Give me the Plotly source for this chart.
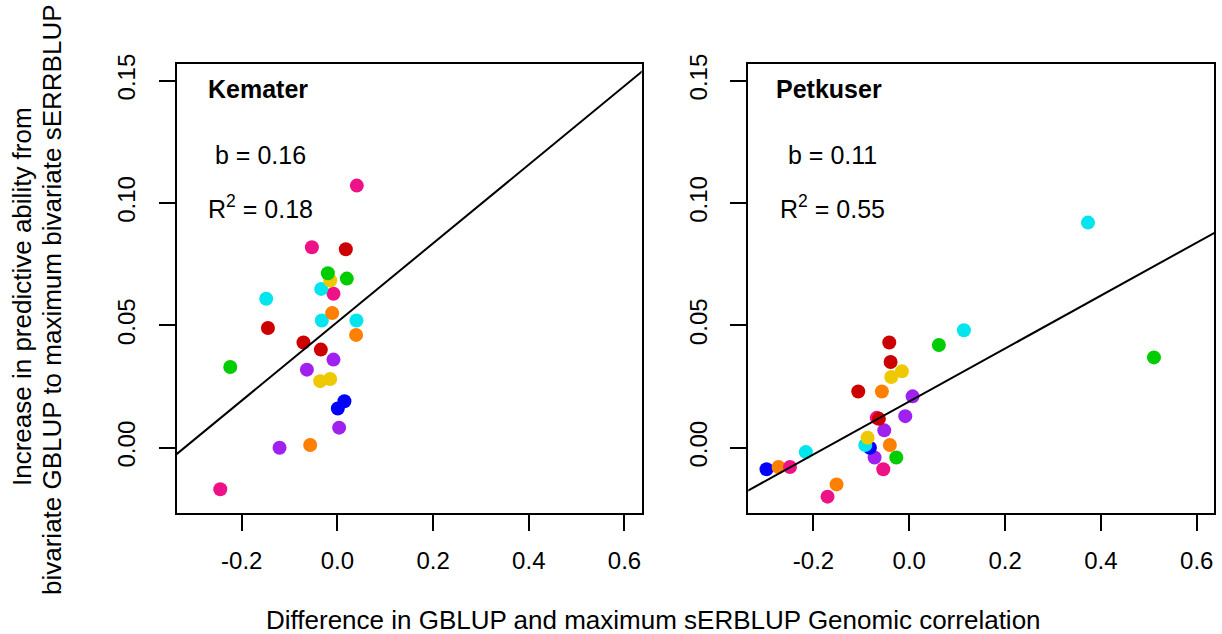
import plotly.graph_objects as go

# ---------------- data ----------------
# Kemater panel
kem_x = [-0.2449, -0.121, -0.057, 0.0035, 0.0008, 0.0146, -0.0361, -0.0152, -0.0639,
         -0.224, -0.0083, -0.0347, -0.071, 0.039, -0.1453, 0.0397, -0.0326, -0.011,
         -0.0083, -0.034, -0.1489, -0.015, 0.0196, -0.020, 0.0175, -0.0534, 0.0405]
kem_y = [-0.017, 0.000, 0.0011, 0.0082, 0.016, 0.019, 0.0272, 0.0281, 0.0319,
         0.033, 0.036, 0.0401, 0.043, 0.0461, 0.0489, 0.052, 0.052, 0.055,
         0.0629, 0.0649, 0.0609, 0.0683, 0.0691, 0.0713, 0.0811, 0.0819, 0.1071]
kem_grp = ["pink", "purple", "orange", "purple", "blue", "blue", "yellow", "yellow", "purple",
           "green", "purple", "red", "red", "orange", "red", "cyan", "cyan", "orange",
           "pink", "cyan", "cyan", "yellow", "green", "green", "red", "pink", "pink"]
kem_slope, kem_intercept = 0.1607, 0.0514

# Petkuser panel
pet_x = [-0.1706, -0.1518, -0.298, -0.2729, -0.249, -0.2159, -0.0543, -0.0724, -0.0271,
         -0.0822, -0.0919, -0.0405, -0.087, -0.0522, -0.068, -0.0634, -0.0084, 0.0069,
         -0.1065, -0.0572, -0.0376, -0.0154, -0.039, -0.0418, 0.0618, 0.114, 0.373, 0.5107]
pet_y = [-0.020, -0.015, -0.0088, -0.0079, -0.0079, -0.0018, -0.0088, -0.004, -0.004,
         0.000, 0.0011, 0.0011, 0.0041, 0.0071, 0.0122, 0.0118, 0.0129, 0.021,
         0.023, 0.023, 0.0289, 0.0312, 0.035, 0.043, 0.042, 0.048, 0.092, 0.0369]
pet_grp = ["pink", "orange", "blue", "orange", "pink", "cyan", "pink", "purple", "green",
           "blue", "cyan", "orange", "yellow", "purple", "pink", "red", "purple", "purple",
           "red", "orange", "yellow", "yellow", "red", "red", "green", "cyan", "cyan", "green"]
pet_slope, pet_intercept = 0.1082, 0.0189

x_ticks = [-0.2, 0.0, 0.2, 0.4, 0.6]
x_ticklabels = ["-0.2", "0.0", "0.2", "0.4", "0.6"]
y_ticks = [0.00, 0.05, 0.10, 0.15]
y_ticklabels = ["0.00", "0.05", "0.10", "0.15"]

xlim = [-0.3, 0.6]
ylim = [-0.02, 0.15]

# ---------------- style ----------------
palette = {
    "pink": "#EE1289", "red": "#CD0000", "green": "#00CD00", "yellow": "#EEC900",
    "cyan": "#00E5EE", "orange": "#FF7F00", "purple": "#A020F0", "blue": "#0000FF",
}
FONT = "Liberation Sans, Arial, Helvetica, sans-serif"


def ext(lim):
    d = (lim[1] - lim[0]) * 0.04
    return [lim[0] - d, lim[1] + d]


xr = ext(xlim)
yr = ext(ylim)

fig = go.Figure()

panels = [
    ("x", "y", kem_x, kem_y, kem_grp, kem_slope, kem_intercept, "Kemater", "b = 0.16", "R<sup>2</sup> = 0.18"),
    ("x2", "y2", pet_x, pet_y, pet_grp, pet_slope, pet_intercept, "Petkuser", "b = 0.11", "R<sup>2</sup> = 0.55"),
]

for xa, ya, px, py, grp, slope, icpt, name, btxt, rtxt in panels:
    fig.add_trace(go.Scatter(
        x=px, y=py, mode="markers", xaxis=xa, yaxis=ya, showlegend=False,
        marker=dict(size=14, color=[palette[g] for g in grp], line=dict(width=0)),
        hoverinfo="x+y",
    ))
    lx = [xr[0] - 0.05, xr[1] + 0.05]
    fig.add_trace(go.Scatter(
        x=lx, y=[icpt + slope * v for v in lx], mode="lines", xaxis=xa, yaxis=ya,
        showlegend=False, line=dict(color="black", width=2), hoverinfo="skip",
    ))
    fig.add_annotation(x=-0.167, y=0.1465, xref=xa, yref=ya, text="<b>" + name + "</b>",
                       xanchor="center", yanchor="middle",
                       showarrow=False, font=dict(family=FONT, size=25, color="black"))
    fig.add_annotation(x=-0.16, y=0.1196, xref=xa, yref=ya, text=btxt,
                       xanchor="center", yanchor="middle",
                       showarrow=False, font=dict(family=FONT, size=25, color="black"))
    fig.add_annotation(x=-0.16, y=0.0985, xref=xa, yref=ya, text=rtxt,
                       xanchor="center", yanchor="middle",
                       showarrow=False, font=dict(family=FONT, size=25, color="black"))

axis_common = dict(
    showline=True, linecolor="black", linewidth=2, mirror=True,
    showgrid=False, zeroline=False, ticks="outside", ticklen=16, tickwidth=2,
    tickcolor="black", tickfont=dict(family=FONT, size=24, color="black"),
    automargin=False,
)

W, H = 1222, 634
xd1 = [176.7 / W, 641.7 / W]
xd2 = [748.3 / W, 1214 / W]
yd = [(H - 513.3) / H, (H - 64) / H]

fig.update_layout(
    width=W, height=H,
    margin=dict(l=0, r=0, t=0, b=0),
    paper_bgcolor="white", plot_bgcolor="white",
    font=dict(family=FONT, color="black"),
    xaxis=dict(domain=xd1, range=xr, tickvals=x_ticks, ticktext=x_ticklabels,
               anchor="y", ticklabelstandoff=9, **axis_common),
    yaxis=dict(domain=yd, range=yr, tickvals=y_ticks, ticktext=y_ticklabels,
               anchor="x", tickangle=-90, ticklabelstandoff=14, **axis_common),
    xaxis2=dict(domain=xd2, range=xr, tickvals=x_ticks, ticktext=x_ticklabels,
                anchor="y2", ticklabelstandoff=9, **axis_common),
    yaxis2=dict(domain=yd, range=yr, tickvals=y_ticks, ticktext=y_ticklabels,
                anchor="x2", tickangle=-90, ticklabelstandoff=14, **axis_common),
)

fig.add_annotation(
    x=653 / W, y=(H - 620) / H, xref="paper", yref="paper",
    xanchor="center", yanchor="middle",
    text="Difference in GBLUP and maximum sERBLUP Genomic correlation",
    showarrow=False, font=dict(family=FONT, size=26, color="black"),
)
fig.add_annotation(
    x=22 / W, y=(H - 297) / H, xref="paper", yref="paper", textangle=-90,
    xanchor="center", yanchor="middle",
    text="Increase in predictive ability from",
    showarrow=False, font=dict(family=FONT, size=26, color="black"),
)
fig.add_annotation(
    x=52 / W, y=(H - 300) / H, xref="paper", yref="paper", textangle=-90,
    xanchor="center", yanchor="middle",
    text="bivariate GBLUP to maximum bivariate sERRBLUP",
    showarrow=False, font=dict(family=FONT, size=26, color="black"),
)

fig.write_html(
    "out.html",
    config={"displayModeBar": False},
    post_script="document.body.style.margin='0';document.body.style.padding='0';"
                "document.body.style.overflow='hidden';",
)
